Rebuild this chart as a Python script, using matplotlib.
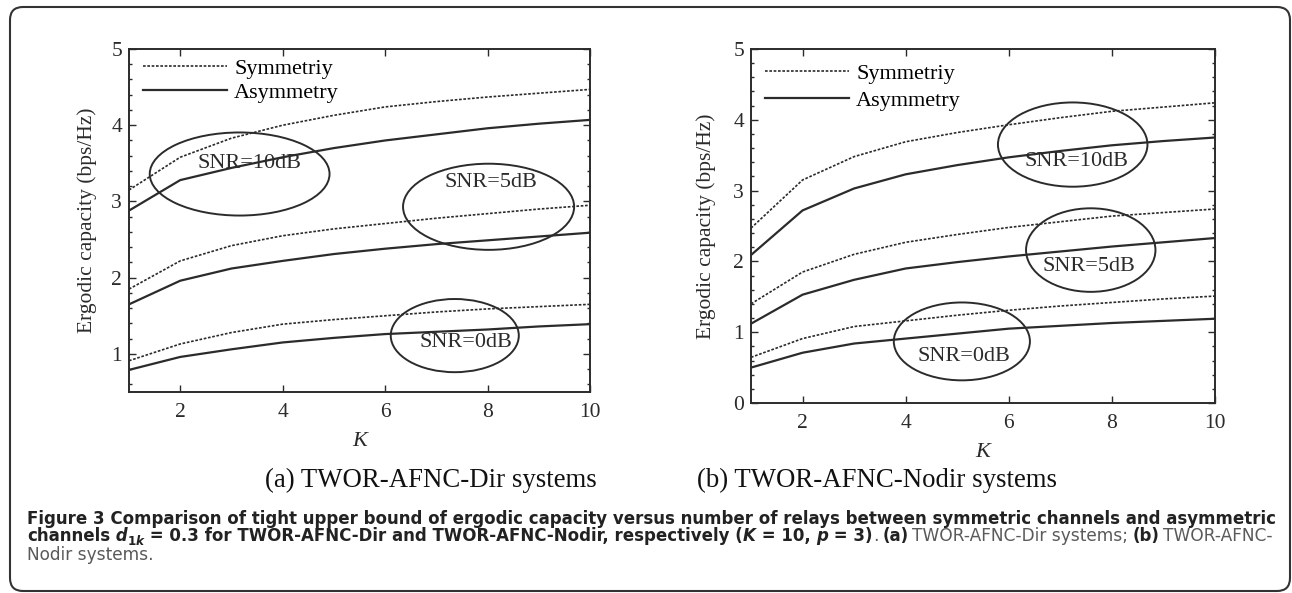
import matplotlib
matplotlib.use('Agg')
import matplotlib.pyplot as plt
from matplotlib.patches import Ellipse, FancyBboxPatch
from matplotlib.ticker import MultipleLocator

K = list(range(1, 11))

# (a) TWOR-AFNC-Dir systems
dir_sym_10 = [3.15, 3.58, 3.83, 4.00, 4.13, 4.24, 4.31, 4.37, 4.42, 4.47]
dir_asym_10 = [2.88, 3.28, 3.44, 3.58, 3.70, 3.80, 3.88, 3.96, 4.02, 4.07]
dir_sym_5 = [1.85, 2.22, 2.42, 2.55, 2.64, 2.71, 2.78, 2.84, 2.90, 2.95]
dir_asym_5 = [1.65, 1.96, 2.12, 2.22, 2.31, 2.38, 2.44, 2.49, 2.54, 2.59]
dir_sym_0 = [0.91, 1.13, 1.28, 1.39, 1.45, 1.50, 1.55, 1.59, 1.62, 1.65]
dir_asym_0 = [0.79, 0.96, 1.06, 1.15, 1.21, 1.26, 1.29, 1.32, 1.36, 1.39]

# (b) TWOR-AFNC-Nodir systems
nodir_sym_10 = [2.47, 3.15, 3.48, 3.69, 3.82, 3.93, 4.03, 4.12, 4.18, 4.24]
nodir_asym_10 = [2.09, 2.72, 3.03, 3.23, 3.36, 3.47, 3.56, 3.64, 3.70, 3.75]
nodir_sym_5 = [1.40, 1.85, 2.10, 2.27, 2.38, 2.48, 2.56, 2.64, 2.69, 2.74]
nodir_asym_5 = [1.12, 1.53, 1.74, 1.90, 1.99, 2.07, 2.14, 2.21, 2.27, 2.33]
nodir_sym_0 = [0.645, 0.91, 1.08, 1.16, 1.24, 1.31, 1.37, 1.42, 1.47, 1.51]
nodir_asym_0 = [0.50, 0.71, 0.84, 0.91, 0.98, 1.05, 1.09, 1.13, 1.16, 1.19]

snr_labels = ['SNR=10dB', 'SNR=5dB', 'SNR=0dB']
# ellipse (centre K, centre capacity, width, height) and label position per SNR
dir_ellipses = [(3.16, 3.36, 3.51, 1.09), (8.02, 2.93, 3.34, 1.13), (7.36, 1.24, 2.50, 0.96)]
dir_label_pos = [(3.36, 3.50), (8.06, 3.25), (7.57, 1.15)]
nodir_ellipses = [(7.24, 3.65, 2.90, 1.19), (7.59, 2.16, 2.51, 1.18), (5.09, 0.87, 2.64, 1.10)]
nodir_label_pos = [(7.31, 3.41), (7.55, 1.93), (5.13, 0.65)]

ink = '#2b2b2b'
serif = 'Liberation Serif'
W, H = 1292, 593

plt.rcParams['font.family'] = serif

fig = plt.figure(figsize=(W / 100, H / 100), dpi=100)


def px_axes(x0, y0, x1, y1):
    return fig.add_axes([x0 / W, 1 - y1 / H, (x1 - x0) / W, (y1 - y0) / H])


def draw_panel(ax, curves, ylim, ellipses, label_pos, ylabel_x, legend_up, legend_gap):
    for sym, asym in curves:
        ax.plot(K, sym, color=ink, lw=1.2, ls=(0, (1.6, 1.0)))
        ax.plot(K, asym, color=ink, lw=1.6)
    ax.lines[0].set_label('Symmetriy')
    ax.lines[1].set_label('Asymmetry')
    for (cx, cy, w, h), (tx, ty), lab in zip(ellipses, label_pos, snr_labels):
        ax.add_patch(Ellipse((cx, cy), w, h, fill=False, ec=ink, lw=1.4))
        ax.text(tx, ty, lab, ha='center', va='center', fontsize=16, color=ink)
    ax.set_xlim(1, 10)
    ax.set_ylim(*ylim)
    ax.xaxis.set_major_locator(MultipleLocator(2))
    ax.yaxis.set_major_locator(MultipleLocator(1))
    ax.yaxis.set_minor_locator(MultipleLocator(0.2))
    ax.tick_params(which='both', direction='in', top=True, right=True,
                   colors=ink, labelsize=15.5, width=1.0)
    ax.tick_params(which='major', length=5)
    ax.tick_params(which='minor', length=2.5)
    ax.tick_params(axis='x', pad=8)
    ax.tick_params(axis='y', pad=5)
    for sp in ax.spines.values():
        sp.set_color(ink)
        sp.set_linewidth(1.4)
    ax.set_xlabel('K', fontsize=16, style='italic', color=ink, labelpad=7)
    ax.set_ylabel('Ergodic capacity (bps/Hz)', fontsize=15.5, color=ink)
    ax.yaxis.set_label_coords(ylabel_x, 0.5)
    h_ax = ax.get_position().height * H
    ax.legend(loc='upper left', bbox_to_anchor=(0, 1 + legend_up / h_ax),
              frameon=False, fontsize=16, handlelength=3.8,
              handletextpad=0.3, labelspacing=legend_gap, borderaxespad=0.4,
              borderpad=0.23)


ax1 = px_axes(129, 49, 590, 392)
draw_panel(ax1, [(dir_sym_10, dir_asym_10), (dir_sym_5, dir_asym_5), (dir_sym_0, dir_asym_0)],
           (0.5, 5), dir_ellipses, dir_label_pos, -0.069, 5, 0.17)

ax2 = px_axes(751, 49, 1215, 403)
draw_panel(ax2, [(nodir_sym_10, nodir_asym_10), (nodir_sym_5, nodir_asym_5), (nodir_sym_0, nodir_asym_0)],
           (0, 5), nodir_ellipses, nodir_label_pos, -0.075, 0, 0.3)

fig.text(431 / W, 1 - 480 / H, '(a) TWOR-AFNC-Dir systems', ha='center', va='center',
         fontsize=19.3, color='#111111')
fig.text(877 / W, 1 - 480 / H, '(b) TWOR-AFNC-Nodir systems', ha='center', va='center',
         fontsize=19.3, color='#111111')

# rounded frame around the whole figure
fig.add_artist(FancyBboxPatch((0.10, 0.02), 12.80, 5.84,
                              boxstyle='round,pad=0,rounding_size=0.13',
                              transform=fig.dpi_scale_trans, fill=False,
                              ec='#333333', lw=1.5))

# caption, built piece by piece
renderer = fig.canvas.get_renderer()
bold = dict(family='DejaVu Sans', weight='bold', color='#222222')
boldit = dict(family='DejaVu Sans', weight='bold', style='italic', color='#222222')
grey = dict(family='DejaVu Sans', weight='normal', color='#5a5a5a')


def width_of(s, size, kw):
    t = fig.text(0, 0, s, fontsize=size, **kw)
    w = t.get_window_extent(renderer=renderer).width
    t.remove()
    return w


line1 = ('Figure 3 Comparison of tight upper bound of ergodic capacity versus number of '
         'relays between symmetric channels and asymmetric')
cap_size = 10 * 1250 / width_of(line1, 10, bold)
grey_size = 10 * 215 / width_of('TWOR-AFNC-Dir systems;', 10, grey)


def text_run(pieces, x, y):
    for s, kw, dy, scale, x_fixed in pieces:
        if x_fixed is not None:
            x = max(x_fixed, x + 4)
        size = (grey_size if kw is grey else cap_size) * scale
        t = fig.text(x / W, 1 - (y + dy) / H, s, ha='left', va='baseline',
                     fontsize=size, **kw)
        x += t.get_window_extent(renderer=renderer).width


text_run([(line1, bold, 0, 1, None)], 27, 524)
text_run([('channels', bold, 0, 1, None), (' d', boldit, 0, 1, None),
          ('1', bold, 4, 0.72, None), ('k', boldit, 4, 0.72, None),
          (' = 0.3 for TWOR-AFNC-Dir and TWOR-AFNC-Nodir, respectively (', bold, 0, 1, None),
          ('K', boldit, 0, 1, None), (' = 10, ', bold, 0, 1, None), ('p', boldit, 0, 1, None),
          (' = 3)', bold, 0, 1, None), ('.', grey, 0, 1, None),
          ('(a)', bold, 0, 1, 875), ('TWOR-AFNC-Dir systems;', grey, 0, 1, 908),
          ('(b)', bold, 0, 1, 1127), ('TWOR-AFNC-', grey, 0, 1, 1160)], 27, 541)
text_run([('Nodir systems.', grey, 0, 1, None)], 27, 560)

fig.savefig('out.png', dpi=100)
